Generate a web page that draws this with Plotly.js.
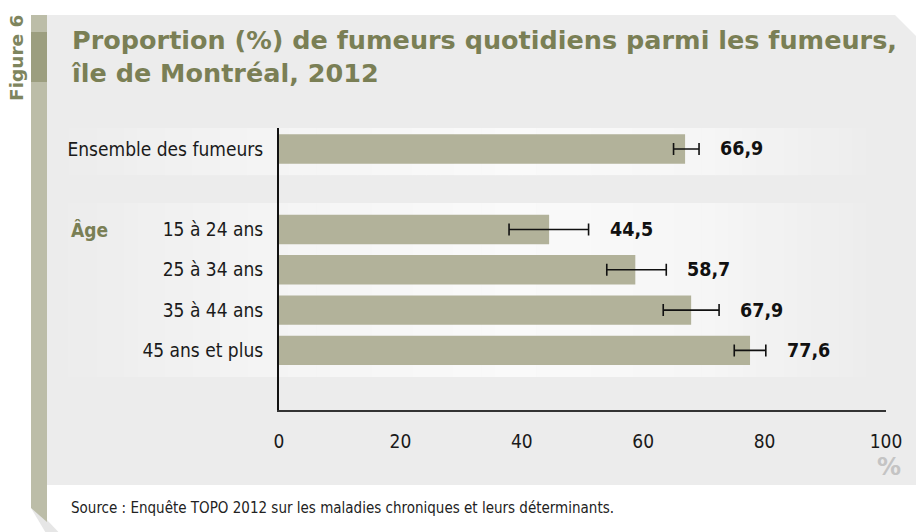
<!DOCTYPE html>
<html>
<head>
<meta charset="utf-8">
<script src="https://cdn.plot.ly/plotly-3.0.1.min.js"></script>
<style>html,body{margin:0;padding:0;background:#fff;}#chart{width:916px;height:532px;}</style>
</head>
<body>
<div id="chart"></div>
<script>
// ---- data ----
var categories = ["Ensemble des fumeurs", "15 à 24 ans", "25 à 34 ans", "35 à 44 ans", "45 ans et plus"];
var positions = [0, 2, 3, 4, 5];
var values = [66.9, 44.5, 58.7, 67.9, 77.6];
var errPlus = [2.3, 6.5, 5.1, 4.6, 2.6];
var errMinus = [1.9, 6.6, 4.7, 4.6, 2.6];
var xTicks = [0, 20, 40, 60, 80, 100];
var groupLabel = "Âge";
var titleText = "Proportion (%) de fumeurs quotidiens parmi les fumeurs,<br>île de Montréal, 2012";
var sourceText = "Source : Enquête TOPO 2012 sur les maladies chroniques et leurs déterminants.";

// ---- layout geometry (pixels) ----
var W = 916, H = 532;
var mL = 279, mR = 30, mT = 128, mB = 122;
var pw = W - mL - mR, ph = H - mT - mB;
function px(p) { return (p - mL) / pw; }
function py(p) { return (H - mB - p) / ph; }
function path(pts) {
  return 'M' + pts.map(function (q) { return px(q[0]) + ',' + py(q[1]); }).join(' L') + ' Z';
}

var olive = '#7a7f55';
var narrow = 'DejaVu Sans Condensed, Liberation Sans Narrow, sans-serif';
var wide = 'DejaVu Sans, sans-serif';

var shapes = [];
shapes.push({type: 'path', xref: 'paper', yref: 'paper', layer: 'below', line: {width: 0},
  fillcolor: '#ececec', path: path([[47, 15], [895, 15], [916, 36], [916, 485], [47, 485]])});
shapes.push({type: 'path', xref: 'paper', yref: 'paper', layer: 'below', line: {width: 0},
  fillcolor: '#e6e6e6', path: path([[31, 508], [47, 520], [66, 540], [50, 540]])});
shapes.push({type: 'path', xref: 'paper', yref: 'paper', layer: 'below', line: {width: 0},
  fillcolor: '#bcbda8', path: path([[31, 15], [47, 15], [47, 522], [31, 508]])});
shapes.push({type: 'rect', xref: 'paper', yref: 'paper', layer: 'below', line: {width: 0},
  fillcolor: '#9c9e7f', x0: px(31), x1: px(47), y0: py(32), y1: py(82)});

function lerp(a, b, t) { return Math.round(a + (b - a) * t); }
function bandColor(p) {
  var stops = [[55, 236], [230, 243], [520, 250], [700, 246], [880, 236]];
  for (var i = 0; i < stops.length - 1; i++) {
    if (p <= stops[i + 1][0]) {
      var t = (p - stops[i][0]) / (stops[i + 1][0] - stops[i][0]);
      var v = lerp(stops[i][1], stops[i + 1][1], t);
      return 'rgb(' + v + ',' + v + ',' + v + ')';
    }
  }
  return 'rgb(236,236,236)';
}
var bands = [[-0.67, 0.65], [1.34, 5.66]];
var N = 60, xa = 55, xb = 880;
bands.forEach(function (b) {
  for (var i = 0; i < N; i++) {
    var p0 = xa + (xb - xa) * i / N, p1 = xa + (xb - xa) * (i + 1) / N + 0.6;
    shapes.push({type: 'rect', xref: 'paper', yref: 'y', layer: 'below', line: {width: 0},
      fillcolor: bandColor((p0 + p1) / 2), x0: px(p0), x1: px(p1), y0: b[0], y1: b[1]});
  }
});

var annotations = [];
annotations.push({xref: 'paper', yref: 'paper', x: px(69), y: py(23), xanchor: 'left', yanchor: 'top',
  align: 'left', showarrow: false, text: titleText,
  font: {family: wide, size: 25.5, color: olive, weight: 'bold'}});
annotations.push({xref: 'paper', yref: 'paper', x: px(16), y: py(58), xanchor: 'center', yanchor: 'middle',
  textangle: -90, showarrow: false, text: 'Figure 6',
  font: {family: wide, size: 18.5, color: '#7e855e', weight: 'bold'}});
annotations.push({xref: 'paper', yref: 'y', x: px(69), y: positions[1], xanchor: 'left', yanchor: 'middle',
  showarrow: false, text: groupLabel,
  font: {family: narrow, size: 19, color: olive, weight: 'bold'}});
annotations.push({xref: 'x', yref: 'paper', x: 100, y: py(467), xanchor: 'center', yanchor: 'middle',
  xshift: 3, showarrow: false, text: '%',
  font: {family: wide, size: 24, color: '#c4c4c4', weight: 'bold'}});
annotations.push({xref: 'paper', yref: 'paper', x: px(69), y: py(508), xanchor: 'left', yanchor: 'middle',
  showarrow: false, text: sourceText,
  font: {family: narrow, size: 15, color: '#222'}});
for (var i = 0; i < values.length; i++) {
  annotations.push({xref: 'x', yref: 'y', x: values[i] + errPlus[i], y: positions[i], xanchor: 'left',
    yanchor: 'middle', xshift: 19, showarrow: false,
    text: values[i].toFixed(1).replace('.', ','),
    font: {family: narrow, size: 19.5, color: '#111', weight: 'bold'}});
}

var trace = {
  type: 'bar', orientation: 'h', x: values, y: positions, width: 0.73,
  marker: {color: '#b2b29a', line: {width: 0}},
  error_x: {type: 'data', symmetric: false, array: errPlus, arrayminus: errMinus,
    color: '#111', thickness: 1.6, width: 6},
  hoverinfo: 'skip'
};

var layout = {
  width: W, height: H,
  margin: {l: mL, r: mR, t: mT, b: mB, pad: 0},
  paper_bgcolor: '#ffffff', plot_bgcolor: 'rgba(0,0,0,0)',
  showlegend: false,
  xaxis: {range: [0, 100], tickvals: xTicks, ticktext: xTicks.map(String), showgrid: false, zeroline: false,
    showline: true, linecolor: '#333', linewidth: 2, ticks: '', ticklabelstandoff: 13,
    tickfont: {family: narrow, size: 19, color: '#1a1a1a'}, fixedrange: true},
  yaxis: {range: [6.48, -0.52], tickvals: positions, ticktext: categories, showgrid: false, zeroline: false,
    showline: true, linecolor: '#111', linewidth: 2, ticks: '', ticklabelstandoff: 10,
    tickfont: {family: narrow, size: 19, color: '#1a1a1a'}, fixedrange: true},
  shapes: shapes,
  annotations: annotations
};

Plotly.newPlot('chart', [trace], layout, {displayModeBar: false, staticPlot: true});
</script>
</body>
</html>
